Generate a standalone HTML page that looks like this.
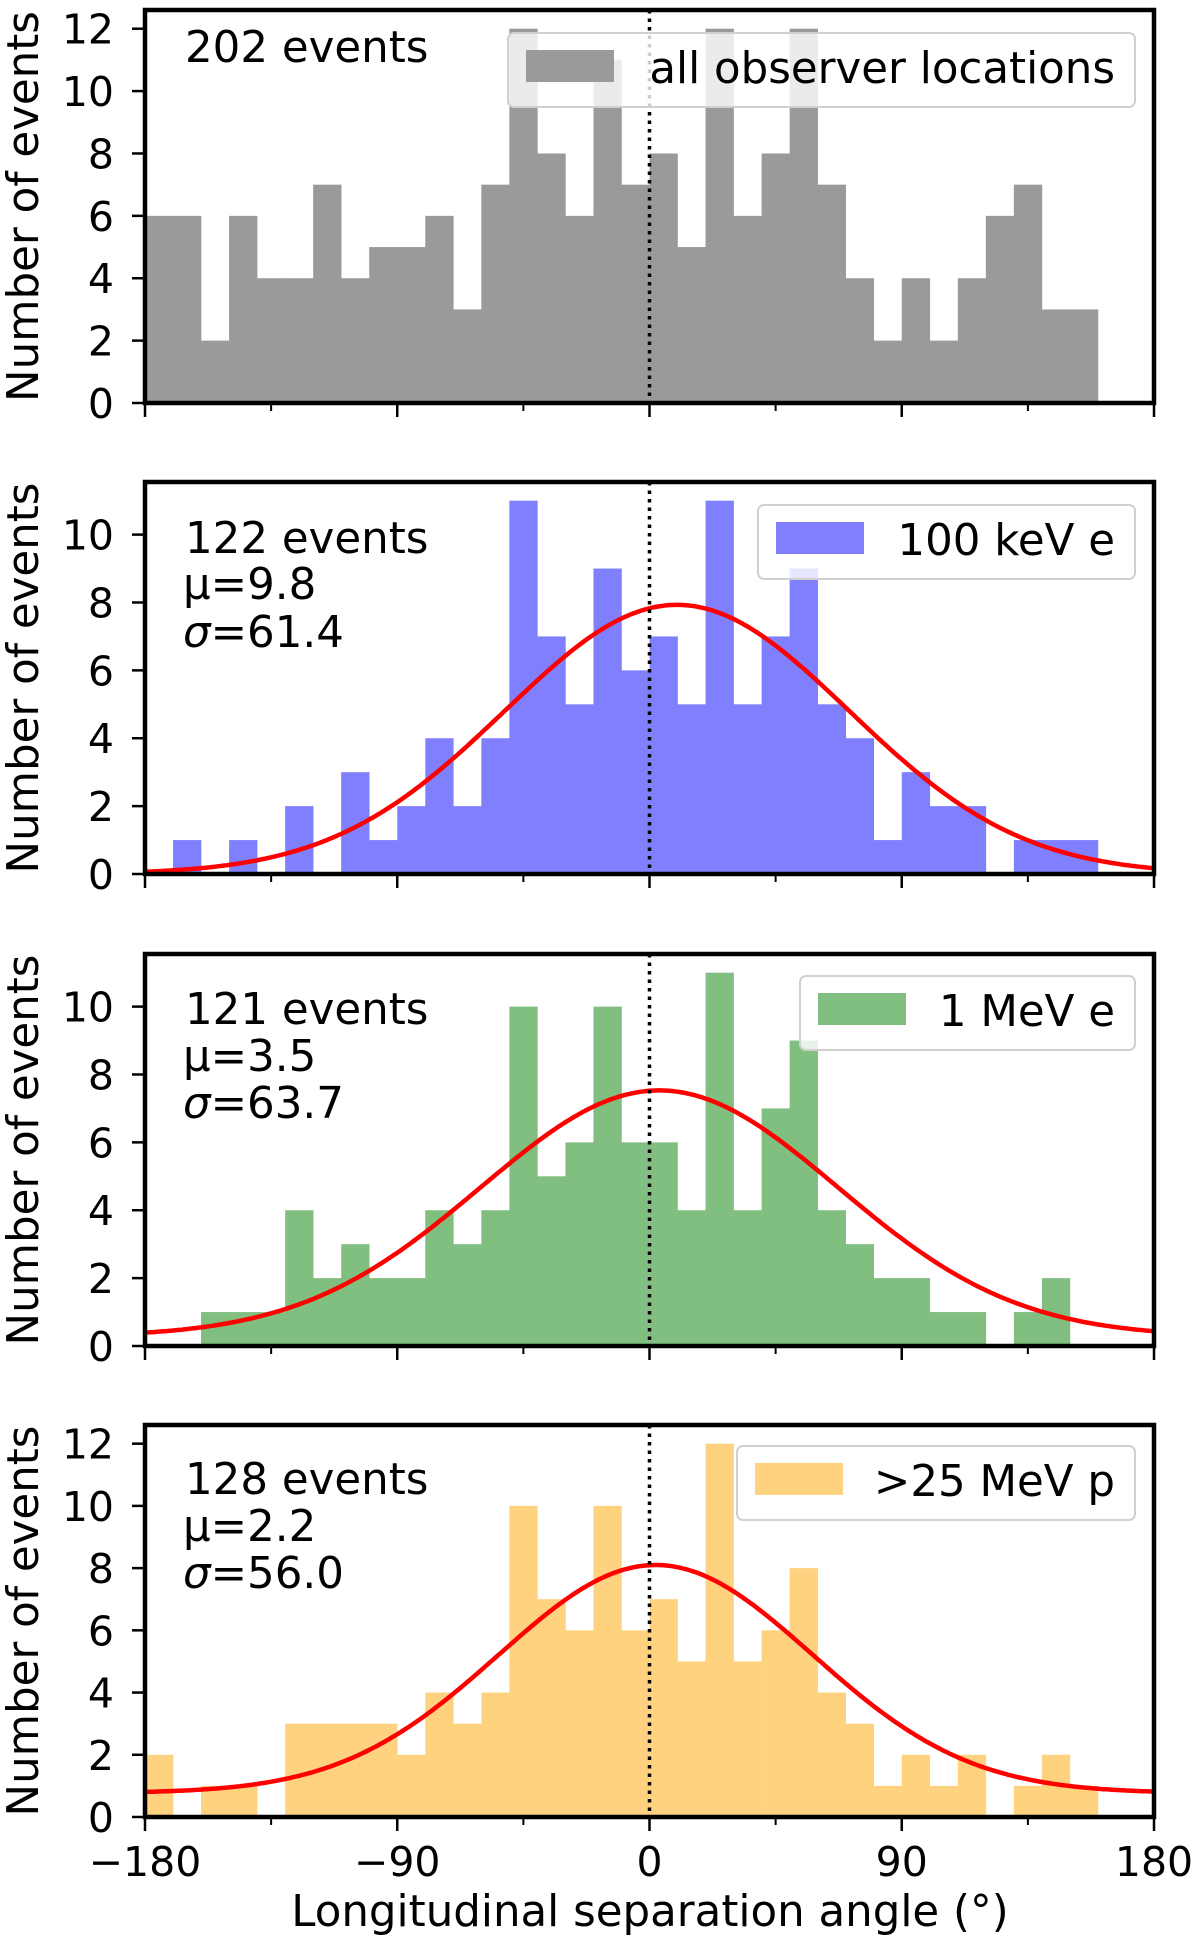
<!DOCTYPE html>
<html><head><meta charset="utf-8"><style>
html,body{margin:0;padding:0;background:#fff;}
svg{display:block;font-family:"DejaVu Sans","Liberation Sans",sans-serif;}
</style></head><body>
<svg id="chart" width="1200" height="1942" viewBox="0 0 1200 1942" xmlns="http://www.w3.org/2000/svg"></svg>
<script>
// ---- data ----
const binStarts = [-180,-170,-160,-150,-140,-130,-120,-110,-100,-90,-80,-70,-60,-50,-40,-30,-20,-10,0,10,20,30,40,50,60,70,80,90,100,110,120,130,140,150,160,170];
const countsAll = [6,6,2,6,4,4,7,4,5,5,6,3,7,12,8,6,11,7,8,5,12,6,8,12,7,4,2,4,2,4,6,7,3,3,0,0];
const counts100keV = [0,1,0,1,0,2,0,3,1,2,4,2,4,11,7,5,9,6,7,5,11,5,7,9,5,4,1,3,2,2,0,1,1,1,0,0];
const counts1MeV = [0,0,1,1,1,4,2,3,2,2,4,3,4,10,5,6,10,6,6,4,11,4,7,9,4,3,2,2,1,1,0,1,2,0,0,0];
const counts25MeV = [2,0,1,1,0,3,3,3,3,2,4,3,4,10,7,6,10,6,7,5,12,5,6,8,4,3,1,2,1,2,0,1,2,1,0,0];
const fitMu = [null, 9.8, 3.5, 2.2];
const fitSigma = [null, 61.4, 63.7, 56.0];
const fitAmp = [null, 7.93, 7.25, 7.33];
const fitOffset = [null, 0.0, 0.28, 0.77];
const eventLabels = ["202 events","122 events","121 events","128 events"];
const muLabels = [null,"\u03bc=9.8","\u03bc=3.5","\u03bc=2.2"];
const sigmaLabels = [null,"=61.4","=63.7","=56.0"];
const legendLabels = ["all observer locations","100 keV e","1 MeV e",">25 MeV p"];
const yMaxes = [12.6, 11.55, 11.55, 12.6];
const yTickValues = [[0,2,4,6,8,10,12],[0,2,4,6,8,10],[0,2,4,6,8,10],[0,2,4,6,8,10,12]];
const xTickValues = [-180,-90,0,90,180];
const xMinorTicks = [-135,-45,45,135];
const xTickLabels = ["\u2212180","\u221290","0","90","180"];

const NS="http://www.w3.org/2000/svg";
const svg=document.getElementById('chart');
function mk(tag,attrs,parent){const e=document.createElementNS(NS,tag);for(const k in attrs)e.setAttribute(k,attrs[k]);(parent||svg).appendChild(e);return e;}

const L=145,R=1154;
const tops=[10,482,954,1425], bottoms=[403,874,1346,1817];
const colors=["#9a9a9a","#8080ff","#80bf80","#ffd280"];
const allCounts=[countsAll,counts100keV,counts1MeV,counts25MeV];
const textY=[[62],[553,599,647],[1024,1071,1118],[1494,1541,1588]];
const legendBox=[[508,33,627,74],[758,505,377,74],[800,976,335,74],[737,1446,398,74]];
const xs=d=>L+(d+180)/360*(R-L);
const FS=43.5;

for(let p=0;p<4;p++){
  const T=tops[p],B=bottoms[p];
  const ys=v=>B-v/yMaxes[p]*(B-T);
  const g=mk('g',{});
  
  
  allCounts[p].forEach((c,i)=>{
    if(c<=0)return;
    const r=mk('rect',{x:xs(binStarts[i]),y:ys(c),width:xs(binStarts[i]+10)-xs(binStarts[i])+0.3,height:B-ys(c),fill:colors[p]},g);
    
    
  });
  if(fitMu[p]!==null){
    let d='';
    for(let x=-180;x<=180;x+=1){
      const v=fitOffset[p]+fitAmp[p]*Math.exp(-Math.pow(x-fitMu[p],2)/(2*fitSigma[p]*fitSigma[p]));
      d+=(x===-180?'M':'L')+xs(x).toFixed(1)+','+ys(v).toFixed(1);
    }
    const pa=mk('path',{d:d,fill:'none',stroke:'#ff0000','stroke-width':4.5},g);
    
    
  }
  const zl=mk('line',{x1:xs(0),x2:xs(0),y1:T,y2:B,stroke:'#000','stroke-width':3.5,'stroke-dasharray':'3.5,5'},g);
  
  
  const fr=mk('rect',{x:L,y:T,width:R-L,height:B-T,fill:'none',stroke:'#000','stroke-width':4.5},g);
  
  
  yTickValues[p].forEach(v=>{
    mk('line',{x1:L-13,x2:L,y1:ys(v),y2:ys(v),stroke:'#000','stroke-width':2.5},g);
    const t=mk('text',{x:114,y:ys(v)+15,'text-anchor':'end','font-size':41,fill:'#000'},g);
    t.textContent=v;
    
    
  });
  xTickValues.forEach(v=>mk('line',{x1:xs(v),x2:xs(v),y1:B,y2:B+14,stroke:'#000','stroke-width':2.5},g));
  xMinorTicks.forEach(v=>mk('line',{x1:xs(v),x2:xs(v),y1:B,y2:B+8,stroke:'#000','stroke-width':2},g));
  const yt=mk('text',{x:0,y:0,transform:'translate(38,'+((T+B)/2)+') rotate(-90)','text-anchor':'middle','font-size':FS,fill:'#000'},g);
  yt.textContent='Number of events';
  
  
  const et=mk('text',{x:185,y:textY[p][0],'font-size':FS,fill:'#000'},g);
  et.textContent=eventLabels[p];
  
  
  if(muLabels[p]){
    const mt=mk('text',{x:183,y:textY[p][1],'font-size':FS,fill:'#000'},g);
    mt.textContent=muLabels[p];
    
    
    const st=mk('text',{x:183,y:textY[p][2],'font-size':FS,fill:'#000'},g);
    const ts=mk('tspan',{'font-style':'italic'},st);ts.textContent='\u03c3';
    const ts2=mk('tspan',{},st);ts2.textContent=sigmaLabels[p];
    
    
  }
  const lb=legendBox[p];
  const lg=mk('g',{},g);
  
  
  mk('rect',{x:lb[0],y:lb[1],width:lb[2],height:lb[3],rx:6,fill:'#fff','fill-opacity':0.8,stroke:'#d0d0d0','stroke-width':2},lg);
  mk('rect',{x:lb[0]+18,y:lb[1]+17,width:88,height:32,fill:colors[p]},lg);
  const lt=mk('text',{x:lb[0]+lb[2]-20,y:lb[1]+50,'text-anchor':'end','font-size':FS,fill:'#000'},lg);
  lt.textContent=legendLabels[p];
  
  
}
xTickValues.forEach((v,i)=>{
  const t=mk('text',{x:xs(v),y:1876,'text-anchor':'middle','font-size':41,fill:'#000'});
  t.textContent=xTickLabels[i];
  
  
});
const xt=mk('text',{x:650,y:1926,'text-anchor':'middle','font-size':FS,fill:'#000'});
xt.textContent='Longitudinal separation angle (\u00b0)';


</script>
</body></html>
